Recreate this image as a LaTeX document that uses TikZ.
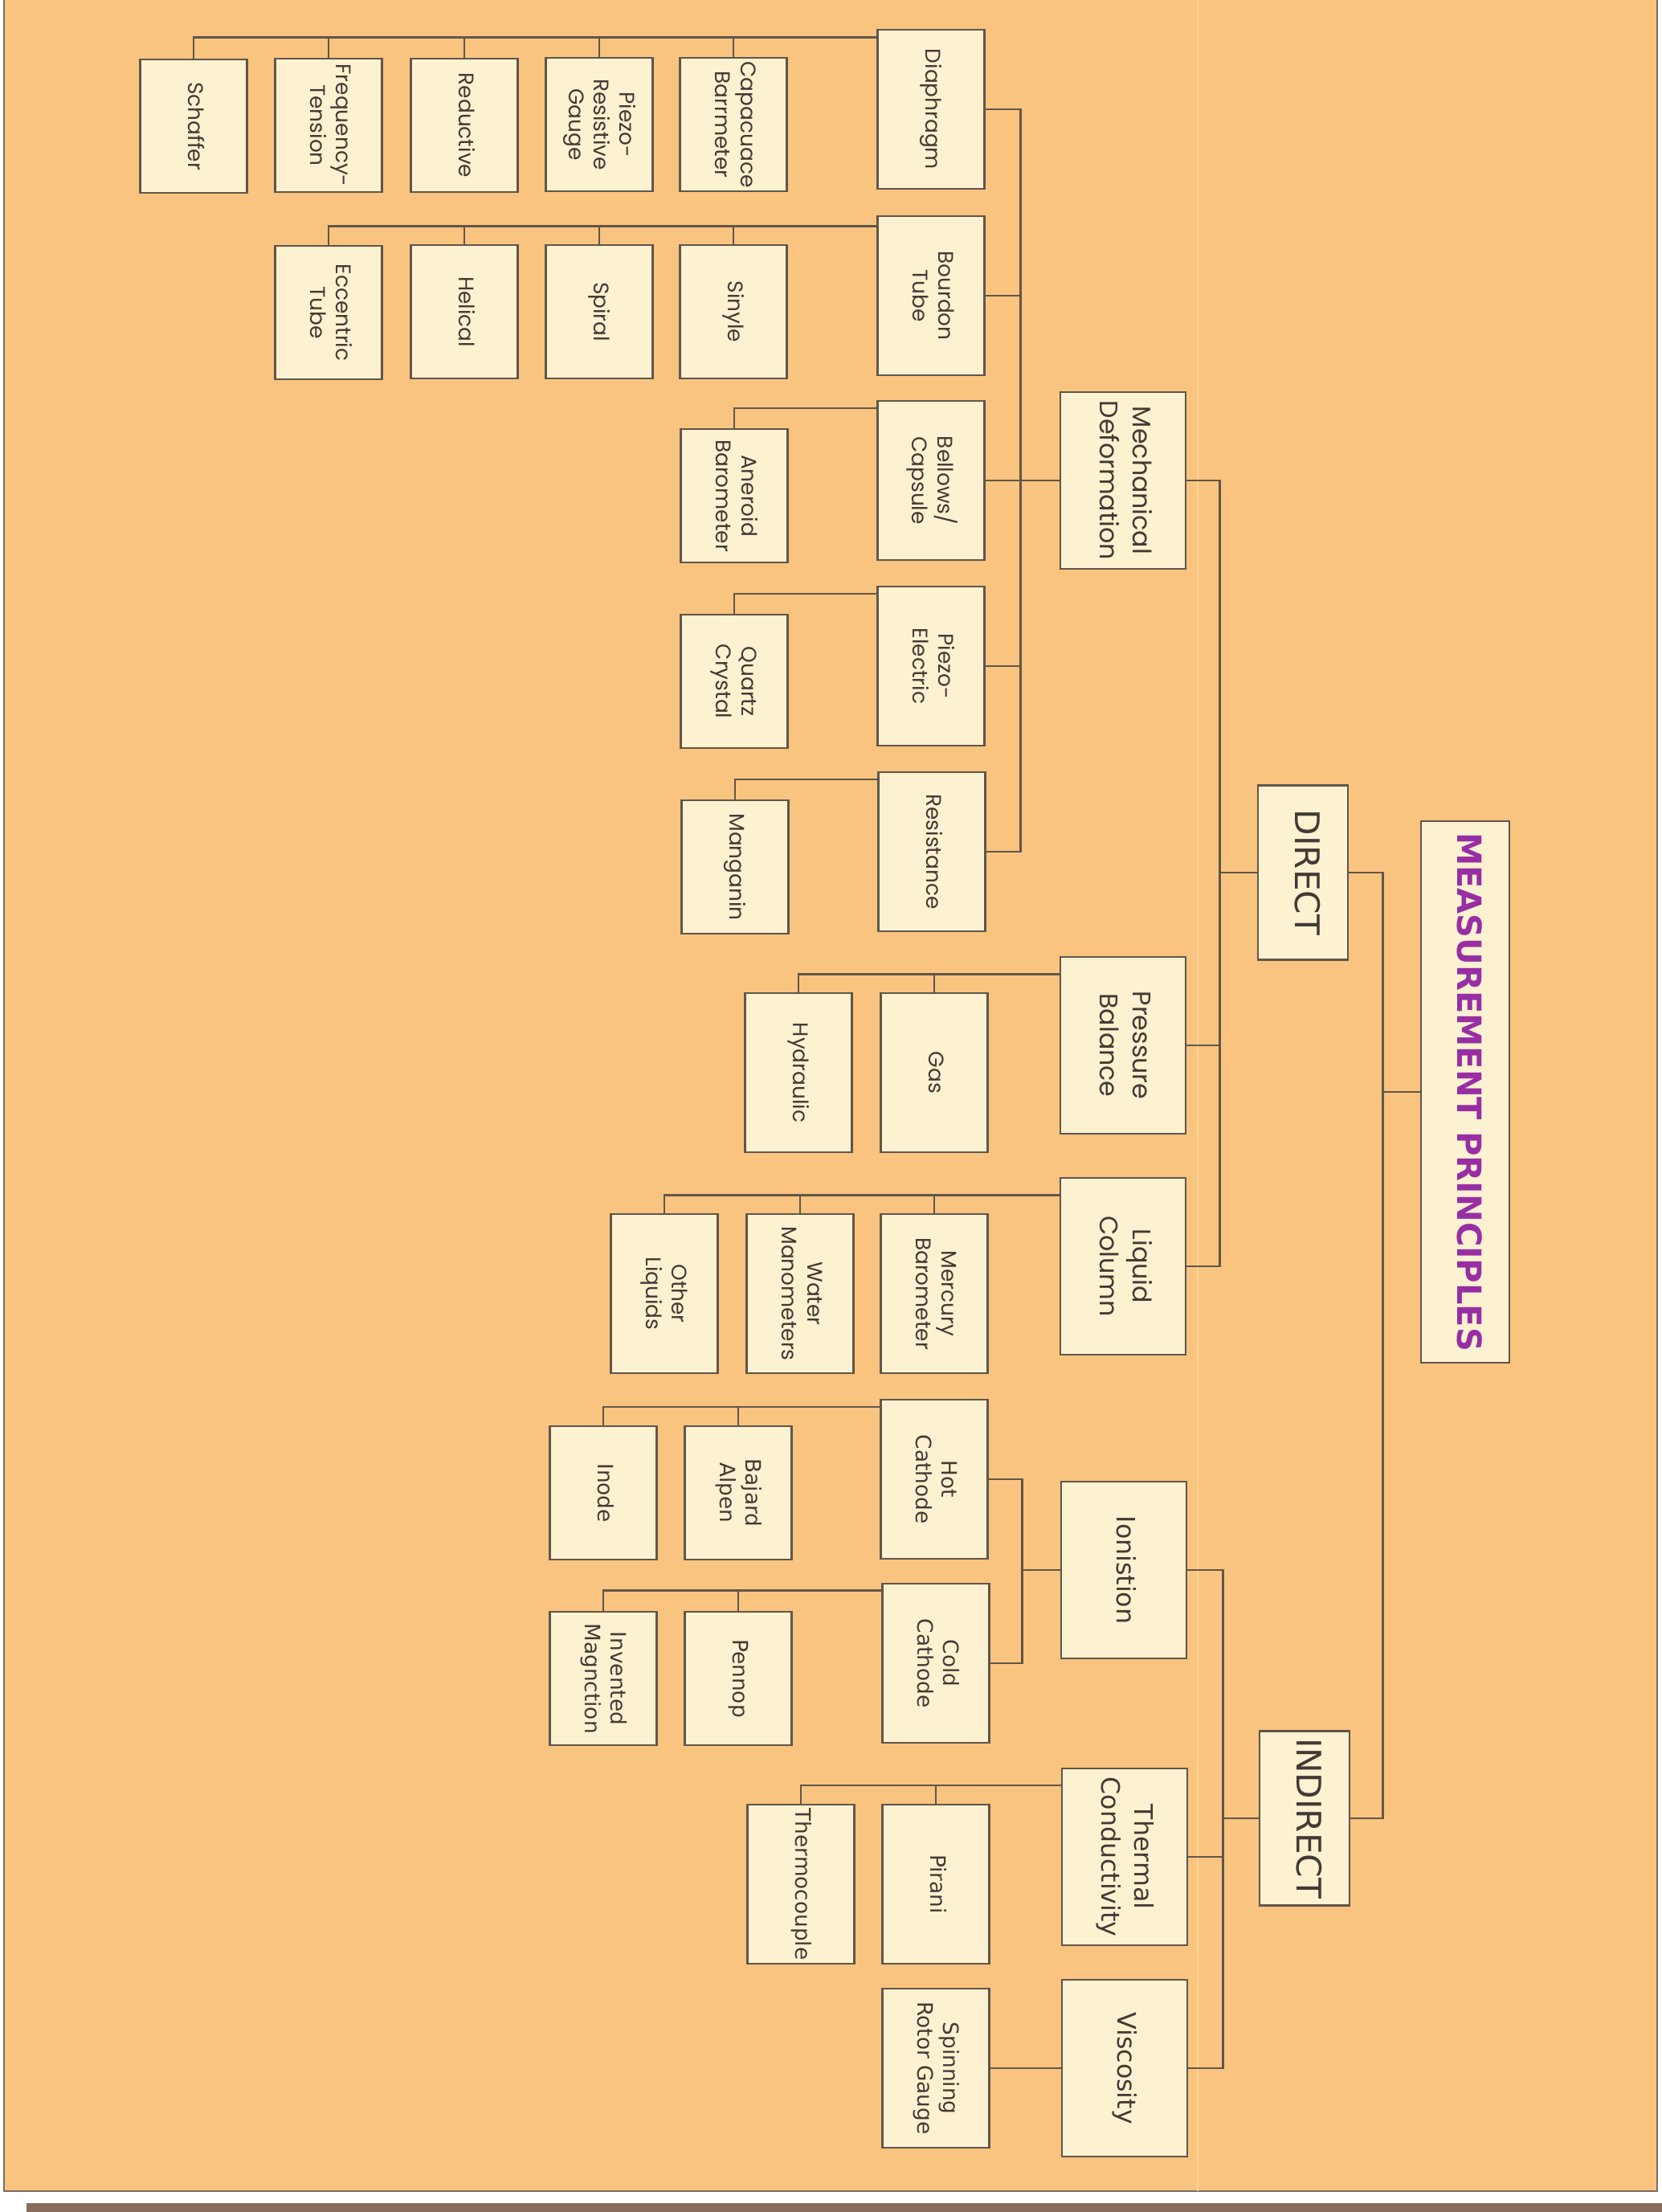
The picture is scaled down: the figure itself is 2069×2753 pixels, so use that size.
\documentclass[tikz,border=0pt]{standalone}
\usepackage{fontspec}
\usepackage{graphicx}
\usetikzlibrary{calc}
\newfontfamily\mpgeo{Poppins}
\newfontfamily\mpsans{DejaVu Sans}
\definecolor{MpOrange}{RGB}{249,196,128}
\definecolor{MpCream}{RGB}{252,241,208}
\definecolor{MpLine}{RGB}{96,86,74}
\definecolor{MpText}{RGB}{66,58,52}
\definecolor{MpPurple}{RGB}{152,46,164}
\definecolor{MpBrown}{RGB}{138,108,92}
\definecolor{MpFold}{RGB}{252,214,150}
\definecolor{MpEdge}{RGB}{120,110,100}
\newcommand{\vtxt}[1]{\rotatebox{-90}{\begin{tabular}{@{}c@{}}#1\end{tabular}}}
\tikzset{
  mp/box/.style={
    draw=MpLine,
    line width=0.8pt,
    fill=MpCream,
    text=MpText,
    inner sep=0pt
  },
  mp/geo/.style={font=\mpgeo\fontsize{7.5}{9}\selectfont},
  mp/sans/.style={font=\mpsans\fontsize{7.5}{9}\selectfont},
  mp/geobig/.style={font=\mpgeo\fontsize{9}{11.5}\selectfont},
  mp/sansbig/.style={font=\mpsans\fontsize{9}{11.5}\selectfont},
  mp/leaf/.style={mp/box, minimum width=13.35mm, minimum height=16.6mm},
  mp/sub/.style={mp/box, minimum width=13.35mm, minimum height=19.8mm},
  mp/group/.style={mp/box, minimum width=15.6mm, minimum height=22mm},
  mp/branch/.style={mp/box, minimum width=11.2mm, minimum height=21.7mm, font=\mpsans\fontsize{12}{14}\selectfont},
  mp/title/.style={mp/box, minimum width=11mm, minimum height=67.4mm, text=MpPurple, font=\mpsans\bfseries\fontsize{11.8}{14}\selectfont},
  mp/link/.style={draw=MpLine, line width=0.7pt}
}

\begin{document}
\begin{tikzpicture}[x=0.1mm,y=-0.1mm]
  \useasboundingbox (0,0) rectangle (2069,2753);
  \fill[white] (0,0) rectangle (2069,2753);
  \filldraw[fill=MpOrange, draw=MpEdge, line width=0.6pt] (5,-10) rectangle (2063,2727);
  \draw[MpFold, line width=0.6pt] (1491,-10) -- (1491,2727);
  \fill[MpBrown] (33,2742) rectangle (2069,2753);

  \node[mp/title] (root) at (1824,1359) {\vtxt{MEASUREMENT PRINCIPLES}};
  \node[mp/branch] (direct) at (1622,1086) {\vtxt{DIRECT}};
  \node[mp/branch] (indirect) at (1624,2263) {\vtxt{INDIRECT}};

  \node[mp/group,mp/geobig] (mech) at (1398,598) {\vtxt{Mechanical\\Deformation}};
  \node[mp/group,mp/geobig] (balance) at (1398,1301) {\vtxt{Pressure\\Balance}};
  \node[mp/group,mp/geobig] (liquid) at (1398,1576) {\vtxt{Liquid\\Column}};
  \node[mp/group,mp/sansbig] (ionistion) at (1399,1954) {\vtxt{Ionistion}};
  \node[mp/group,mp/sansbig] (thermal) at (1400,2311) {\vtxt{Thermal\\Conductivity}};
  \node[mp/group,mp/sansbig] (viscosity) at (1400,2574) {\vtxt{Viscosity}};

  \node[mp/sub,mp/geo] (diaphragm) at (1159,136) {\vtxt{Diaphragm}};
  \node[mp/sub,mp/geo] (bourdon) at (1159,368) {\vtxt{Bourdon\\Tube}};
  \node[mp/sub,mp/geo] (bellows) at (1159,598) {\vtxt{Bellows/\\Capsule}};
  \node[mp/sub,mp/geo] (piezoel) at (1159,829) {\vtxt{Piezo-\\Electric}};
  \node[mp/sub,mp/geo] (resistance) at (1160,1060) {\vtxt{Resistance}};

  \node[mp/leaf,mp/geo] (capacuace) at (913,155) {\vtxt{Capacuace\\Barrmeter}};
  \node[mp/leaf,mp/geo] (piezores) at (746,155) {\vtxt{Piezo-\\Resistive\\Gauge}};
  \node[mp/leaf,mp/geo] (reductive) at (578,156) {\vtxt{Reductive}};
  \node[mp/leaf,mp/geo] (frequency) at (409,156) {\vtxt{Frequency-\\Tension}};
  \node[mp/leaf,mp/geo] (schaffer) at (241,157) {\vtxt{Schaffer}};

  \node[mp/leaf,mp/geo] (sinyle) at (913,388) {\vtxt{Sinyle}};
  \node[mp/leaf,mp/geo] (spiral) at (746,388) {\vtxt{Spiral}};
  \node[mp/leaf,mp/geo] (helical) at (578,388) {\vtxt{Helical}};
  \node[mp/leaf,mp/geo] (eccentric) at (409,389) {\vtxt{Eccentric\\Tube}};

  \node[mp/leaf,mp/geo] (aneroid) at (914,617) {\vtxt{Aneroid\\Barometer}};
  \node[mp/leaf,mp/geo] (quartz) at (914,848) {\vtxt{Quartz\\Crystal}};
  \node[mp/leaf,mp/geo] (manganin) at (915,1079) {\vtxt{Manganin}};

  \node[mp/sub,mp/geo] (gas) at (1163,1335) {\vtxt{Gas}};
  \node[mp/sub,mp/geo] (hydraulic) at (994,1335) {\vtxt{Hydraulic}};

  \node[mp/sub,mp/geo] (mercury) at (1163,1610) {\vtxt{Mercury\\Barometer}};
  \node[mp/sub,mp/geo] (water) at (996,1610) {\vtxt{Water\\Manometers}};
  \node[mp/sub,mp/geo] (otherliq) at (827,1610) {\vtxt{Other\\Liquids}};

  \node[mp/sub,mp/sans] (hotcath) at (1163,1841) {\vtxt{Hot\\Cathode}};
  \node[mp/sub,mp/sans] (coldcath) at (1165,2070) {\vtxt{Cold\\Cathode}};
  \node[mp/leaf,mp/sans] (bajard) at (919,1858) {\vtxt{Bajard\\Alpen}};
  \node[mp/leaf,mp/sans] (inode) at (751,1858) {\vtxt{Inode}};
  \node[mp/leaf,mp/sans] (pennop) at (919,2089) {\vtxt{Pennop}};
  \node[mp/leaf,mp/sans] (invented) at (751,2089) {\vtxt{Invented\\Magnction}};

  \node[mp/sub,mp/sans] (pirani) at (1165,2345) {\vtxt{Pirani}};
  \node[mp/sub,mp/sans] (thermocouple) at (997,2345) {\vtxt{Thermocouple}};
  \node[mp/sub,mp/sans] (spinning) at (1165,2574) {\vtxt{Spinning\\Rotor Gauge}};

  \coordinate (rootbus) at ($(root.west)+(-46,0)$);
  \draw[mp/link] (root.west) -- (rootbus);
  \draw[mp/link] (direct.east) -| (rootbus) |- (indirect.east);

  \coordinate (dirbus) at ($(direct.west)+(-46,0)$);
  \draw[mp/link] (direct.west) -- (dirbus);
  \draw[mp/link] (mech.east) -| (dirbus) |- (liquid.east);
  \draw[mp/link] (balance.east) -- (balance.east -| dirbus);

  \coordinate (indbus) at ($(indirect.west)+(-44,0)$);
  \draw[mp/link] (indirect.west) -- (indbus);
  \draw[mp/link] (ionistion.east) -| (indbus) |- (viscosity.east);
  \draw[mp/link] (thermal.east) -- (thermal.east -| indbus);

  \coordinate (mechbus) at ($(mech.west)+(-48,0)$);
  \draw[mp/link] (mech.west) -- (mechbus);
  \draw[mp/link] (diaphragm.east) -| (mechbus) |- (resistance.east);
  \draw[mp/link] (bourdon.east) -- (bourdon.east -| mechbus);
  \draw[mp/link] (bellows.east) -- (bellows.east -| mechbus);
  \draw[mp/link] (piezoel.east) -- (piezoel.east -| mechbus);

  \coordinate (diabus) at ([yshift=-1.1mm]diaphragm.north west);
  \draw[mp/link] (diabus) -| (schaffer.north);
  \draw[mp/link] (capacuace.north) -- (capacuace.north |- diabus);
  \draw[mp/link] (piezores.north) -- (piezores.north |- diabus);
  \draw[mp/link] (reductive.north) -- (reductive.north |- diabus);
  \draw[mp/link] (frequency.north) -- (frequency.north |- diabus);

  \coordinate (bourbus) at ([yshift=-1.4mm]bourdon.north west);
  \draw[mp/link] (bourbus) -| (eccentric.north);
  \draw[mp/link] (sinyle.north) -- (sinyle.north |- bourbus);
  \draw[mp/link] (spiral.north) -- (spiral.north |- bourbus);
  \draw[mp/link] (helical.north) -- (helical.north |- bourbus);

  \draw[mp/link] ([yshift=-1.05mm]bellows.north west) -| (aneroid.north);
  \draw[mp/link] ([yshift=-1.05mm]piezoel.north west) -| (quartz.north);
  \draw[mp/link] ([yshift=-1.05mm]resistance.north west) -| (manganin.north);

  \coordinate (balbus) at ([yshift=-2.3mm]balance.north west);
  \draw[mp/link] (balbus) -| (hydraulic.north);
  \draw[mp/link] (gas.north) -- (gas.north |- balbus);

  \coordinate (liqbus) at ([yshift=-2.3mm]liquid.north west);
  \draw[mp/link] (liqbus) -| (otherliq.north);
  \draw[mp/link] (mercury.north) -- (mercury.north |- liqbus);
  \draw[mp/link] (water.north) -- (water.north |- liqbus);

  \coordinate (ionbus) at ($(ionistion.west)+(-47,0)$);
  \draw[mp/link] (ionistion.west) -- (ionbus);
  \draw[mp/link] (hotcath.east) -| (ionbus) |- (coldcath.east);

  \coordinate (hotbus) at ([yshift=-1.05mm]hotcath.north west);
  \draw[mp/link] (hotbus) -| (inode.north);
  \draw[mp/link] (bajard.north) -- (bajard.north |- hotbus);

  \coordinate (coldbus) at ([yshift=-1mm]coldcath.north west);
  \draw[mp/link] (coldbus) -| (invented.north);
  \draw[mp/link] (pennop.north) -- (pennop.north |- coldbus);

  \coordinate (thermbus) at ([yshift=-2.25mm]thermal.north west);
  \draw[mp/link] (thermbus) -| (thermocouple.north);
  \draw[mp/link] (pirani.north) -- (pirani.north |- thermbus);

  \draw[mp/link] (viscosity.west) -- (spinning.east);
\end{tikzpicture}
\end{document}
